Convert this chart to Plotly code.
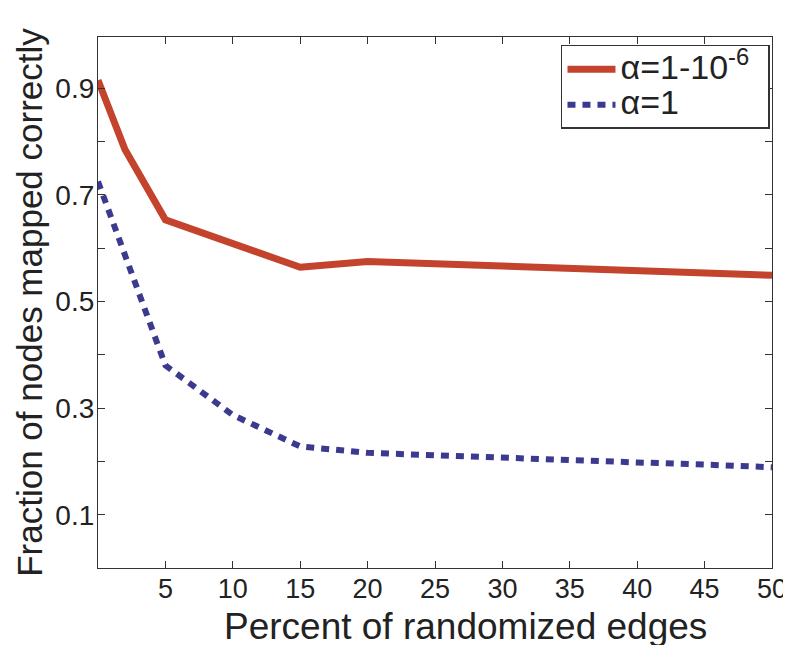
import plotly.graph_objects as go

x_vals = [0, 2, 5, 10, 15, 20, 25, 30, 35, 40, 45, 50]
red_vals = [0.915, 0.785, 0.653, 0.609, 0.564, 0.575, 0.571, 0.567, 0.563, 0.558, 0.554, 0.549]
blue_vals = [0.725, 0.59, 0.38, 0.287, 0.228, 0.216, 0.211, 0.206, 0.202, 0.198, 0.194, 0.189]
red_name = "α=1-10<sup>-6</sup>"
blue_name = "α=1"
x_ticks = [5, 10, 15, 20, 25, 30, 35, 40, 45, 50]
y_ticks = [0.1, 0.2, 0.3, 0.4, 0.5, 0.6, 0.7, 0.8, 0.9]
y_ticktext = ["0.1", "", "0.3", "", "0.5", "", "0.7", "", "0.9"]
x_title = "Percent of randomized edges"
y_title = "Fraction of nodes mapped correctly"

FONT = "Liberation Sans, Arial, sans-serif"
big = lambda s: '<span style="font-size:34px">' + s + '</span>&nbsp;&nbsp;'

fig = go.Figure()
fig.add_trace(go.Scatter(x=x_vals, y=red_vals, mode="lines", name=big(red_name),
                         line=dict(color="#c4432c", width=7)))
fig.add_trace(go.Scatter(x=x_vals, y=blue_vals, mode="lines", name=big(blue_name),
                         line=dict(color="#3b3a8e", width=6, dash="8px,7px")))

fig.update_layout(
    width=783, height=637,
    margin=dict(l=90, r=19, t=29, b=77),
    paper_bgcolor="white", plot_bgcolor="white",
    font=dict(family=FONT, color="#222"),
    legend=dict(x=0.997, y=0.985, xanchor="right", yanchor="top",
                bgcolor="white", bordercolor="#333", borderwidth=1.5,
                font=dict(size=25, family=FONT), tracegroupgap=0,
                itemwidth=48),
    showlegend=True,
)
fig.add_annotation(text=x_title, xref="paper", yref="paper", x=0.545, y=0,
                   yshift=-36, xanchor="center", yanchor="top", showarrow=False,
                   font=dict(size=37, family=FONT, color="#222"))
fig.update_xaxes(range=[0, 50], tickvals=x_ticks, ticks="inside", ticklen=7,
                 tickwidth=1, tickcolor="#333", showline=True, linecolor="#333",
                 linewidth=1.2, mirror="ticks", showgrid=False, zeroline=False,
                 tickfont=dict(size=27), ticklabelstandoff=-4, automargin=False,
                 ticklabeloverflow="allow")
fig.update_yaxes(range=[0, 0.996], tickvals=y_ticks, ticktext=y_ticktext,
                 ticks="inside", ticklen=7, tickwidth=1, tickcolor="#333",
                 showline=True, linecolor="#333", linewidth=1.2, mirror="ticks",
                 showgrid=False, zeroline=False, tickfont=dict(size=28),
                 ticklabelstandoff=-3, automargin=False,
                 title=dict(text=y_title, font=dict(size=35), standoff=2))

fig.write_html("out.html")
